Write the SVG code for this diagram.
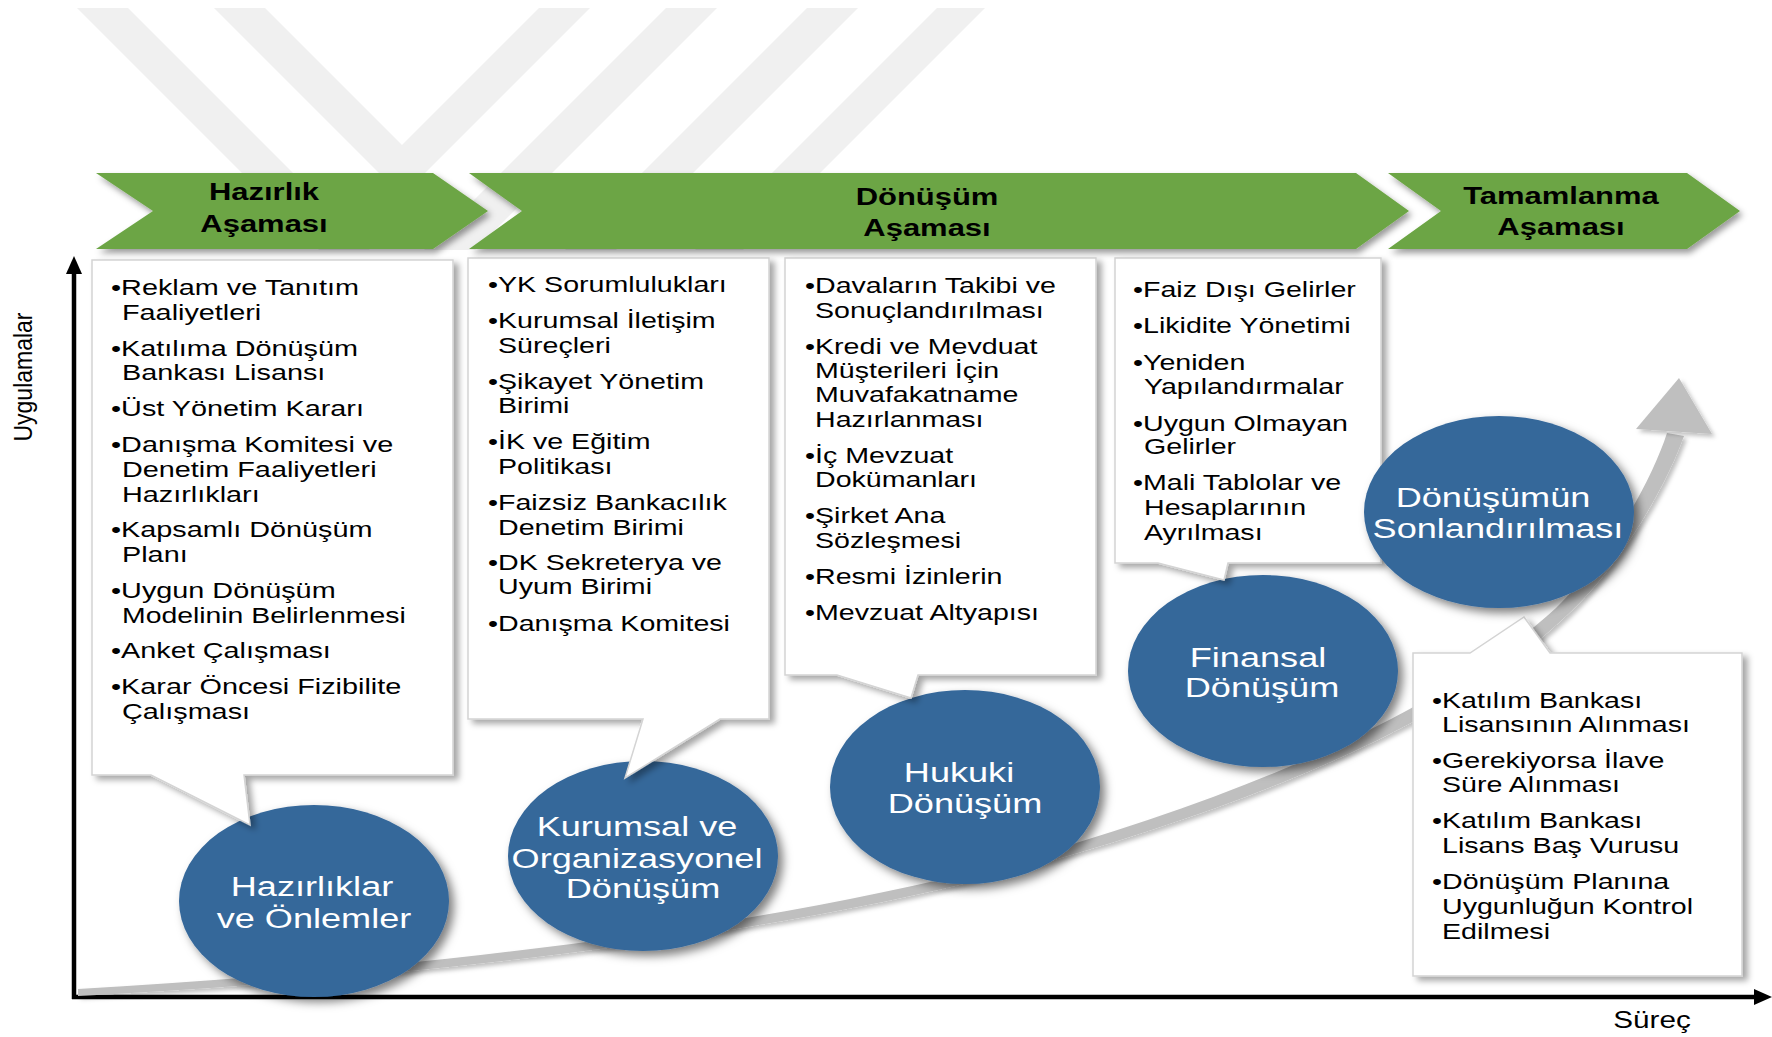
<svg xmlns="http://www.w3.org/2000/svg" width="1772" height="1037" viewBox="0 0 1772 1037">
<defs>
<style>
.bx{font-family:"Liberation Sans",Arial,sans-serif;font-size:22px;fill:#000}
.ct{font-family:"Liberation Sans",Arial,sans-serif;font-size:28px;fill:#fff;text-anchor:middle}
.ch{font-family:"Liberation Sans",Arial,sans-serif;font-size:24px;font-weight:bold;fill:#000;text-anchor:middle}
.ax{font-family:"Liberation Sans",Arial,sans-serif;font-size:23px;fill:#000;text-anchor:middle}
.box{fill:#fff;stroke:#d4d4d4;stroke-width:1.5;filter:url(#shBox)}
.circ{fill:#35679a;filter:url(#shCirc)}
.chev{fill:#6ca544;filter:url(#shChev)}
.wm{fill:#f0f0f0}
</style>
<filter id="shBox" x="-10%" y="-10%" width="125%" height="125%">
<feDropShadow dx="5" dy="4" stdDeviation="3" flood-color="#000" flood-opacity="0.35"/>
</filter>
<filter id="shCirc" x="-20%" y="-20%" width="145%" height="145%">
<feDropShadow dx="5" dy="5" stdDeviation="5" flood-color="#000" flood-opacity="0.5"/>
</filter>
<filter id="shChev" x="-10%" y="-20%" width="125%" height="150%">
<feDropShadow dx="3" dy="4" stdDeviation="3" flood-color="#000" flood-opacity="0.4"/>
</filter>
<filter id="shCurve" x="-10%" y="-10%" width="125%" height="125%">
<feDropShadow dx="3" dy="3" stdDeviation="2" flood-color="#000" flood-opacity="0.25"/>
</filter>
</defs>
<rect width="1772" height="1037" fill="#fff"/>

<g id="watermark">
<polygon class="wm" points="77,8 128,8 370,250 319,250"/>
<polygon class="wm" points="214,8 265,8 402,145 539,8 590,8 402,196"/>
<polygon class="wm" points="666,8 717,8 475,250 424,250"/>
<polygon class="wm" points="807,8 858,8 616,250 565,250"/>
<polygon class="wm" points="937,8 985,8 743,250 695,250"/>
</g>

<g id="axes">
<line x1="74" y1="999" x2="74" y2="270" stroke="#000" stroke-width="4.5"/>
<polygon points="74,256 66,274 82,274" fill="#000"/>
<line x1="72" y1="997" x2="1758" y2="997" stroke="#000" stroke-width="4.5"/>
<polygon points="1772,997 1754,989 1754,1005" fill="#000"/>
<text class="ax" transform="translate(32 377) scale(1.15 1) rotate(-90)">Uygulamalar</text>
<text class="ax" transform="translate(1652 1028) scale(1.29 1)">Süreç</text>
</g>

<g id="connectors">
<path filter="url(#shCurve)" fill="#bfbfbf" d="M78 989 C400 971 750 930 1000 865 C1247 797 1445 710 1556 608 C1609 557 1652 480 1667 433 L1684 436 C1667 484 1621 566 1565 617 C1455 721 1253 807 1003 874 C750 940 400 979 78 996 Z"/>
<polygon filter="url(#shCurve)" fill="#bfbfbf" points="1679,378 1636,429 1712,434"/>
</g>

<g id="node-c1">
<ellipse class="circ" cx="314" cy="901" rx="135" ry="96"/>
<text class="ct" transform="translate(312 896) scale(1.29 1)">Hazırlıklar</text>
<text class="ct" transform="translate(314 928) scale(1.29 1)">ve Önlemler</text>
</g>
<g id="node-c2">
<ellipse class="circ" cx="643" cy="856" rx="135" ry="95"/>
<text class="ct" transform="translate(637 836) scale(1.29 1)">Kurumsal ve</text>
<text class="ct" transform="translate(637 868) scale(1.29 1)">Organizasyonel</text>
<text class="ct" transform="translate(643 898) scale(1.29 1)">Dönüşüm</text>
</g>
<g id="node-c3">
<ellipse class="circ" cx="965" cy="787" rx="135" ry="97"/>
<text class="ct" transform="translate(959 782) scale(1.29 1)">Hukuki</text>
<text class="ct" transform="translate(965 813) scale(1.29 1)">Dönüşüm</text>
</g>
<g id="node-c4">
<ellipse class="circ" cx="1263" cy="671" rx="135" ry="96"/>
<text class="ct" transform="translate(1258 667) scale(1.29 1)">Finansal</text>
<text class="ct" transform="translate(1262 697) scale(1.29 1)">Dönüşüm</text>
</g>

<g id="node-b1">
<path class="box" d="M92 260 H453 V775 H244 L250 825 L151 775 H92 Z"/>
<text class="bx" transform="translate(111 295) scale(1.31 1)">•Reklam ve Tanıtım</text>
<text class="bx" transform="translate(122 320) scale(1.31 1)">Faaliyetleri</text>
<text class="bx" transform="translate(111 356) scale(1.31 1)">•Katılıma Dönüşüm</text>
<text class="bx" transform="translate(122 380) scale(1.31 1)">Bankası Lisansı</text>
<text class="bx" transform="translate(111 416) scale(1.31 1)">•Üst Yönetim Kararı</text>
<text class="bx" transform="translate(111 452) scale(1.31 1)">•Danışma Komitesi ve</text>
<text class="bx" transform="translate(122 477) scale(1.31 1)">Denetim Faaliyetleri</text>
<text class="bx" transform="translate(122 502) scale(1.31 1)">Hazırlıkları</text>
<text class="bx" transform="translate(111 537) scale(1.31 1)">•Kapsamlı Dönüşüm</text>
<text class="bx" transform="translate(122 562) scale(1.31 1)">Planı</text>
<text class="bx" transform="translate(111 598) scale(1.31 1)">•Uygun Dönüşüm</text>
<text class="bx" transform="translate(122 623) scale(1.29 1)">Modelinin Belirlenmesi</text>
<text class="bx" transform="translate(111 658) scale(1.31 1)">•Anket Çalışması</text>
<text class="bx" transform="translate(111 694) scale(1.31 1)">•Karar Öncesi Fizibilite</text>
<text class="bx" transform="translate(122 719) scale(1.31 1)">Çalışması</text>
</g>

<g id="node-b2">
<path class="box" d="M468 258 H769 V719 H720 L625 778 L643 719 H468 Z"/>
<text class="bx" transform="translate(488 292) scale(1.3 1)">•YK Sorumlulukları</text>
<text class="bx" transform="translate(488 328) scale(1.3 1)">•Kurumsal İletişim</text>
<text class="bx" transform="translate(498 353) scale(1.3 1)">Süreçleri</text>
<text class="bx" transform="translate(488 389) scale(1.3 1)">•Şikayet Yönetim</text>
<text class="bx" transform="translate(498 413) scale(1.3 1)">Birimi</text>
<text class="bx" transform="translate(488 449) scale(1.3 1)">•İK ve Eğitim</text>
<text class="bx" transform="translate(498 474) scale(1.3 1)">Politikası</text>
<text class="bx" transform="translate(488 510) scale(1.3 1)">•Faizsiz Bankacılık</text>
<text class="bx" transform="translate(498 535) scale(1.3 1)">Denetim Birimi</text>
<text class="bx" transform="translate(488 570) scale(1.3 1)">•DK Sekreterya ve</text>
<text class="bx" transform="translate(498 594) scale(1.3 1)">Uyum Birimi</text>
<text class="bx" transform="translate(488 631) scale(1.3 1)">•Danışma Komitesi</text>
</g>

<g id="node-b3">
<path class="box" d="M785 258 H1096 V675 H918 L911 698 L837 675 H785 Z"/>
<text class="bx" transform="translate(805 293) scale(1.3 1)">•Davaların Takibi ve</text>
<text class="bx" transform="translate(815 318) scale(1.3 1)">Sonuçlandırılması</text>
<text class="bx" transform="translate(805 354) scale(1.3 1)">•Kredi ve Mevduat</text>
<text class="bx" transform="translate(815 378) scale(1.3 1)">Müşterileri İçin</text>
<text class="bx" transform="translate(815 402) scale(1.3 1)">Muvafakatname</text>
<text class="bx" transform="translate(815 427) scale(1.3 1)">Hazırlanması</text>
<text class="bx" transform="translate(805 463) scale(1.3 1)">•İç Mevzuat</text>
<text class="bx" transform="translate(815 487) scale(1.3 1)">Dokümanları</text>
<text class="bx" transform="translate(805 523) scale(1.3 1)">•Şirket Ana</text>
<text class="bx" transform="translate(815 548) scale(1.3 1)">Sözleşmesi</text>
<text class="bx" transform="translate(805 584) scale(1.3 1)">•Resmi İzinlerin</text>
<text class="bx" transform="translate(805 620) scale(1.3 1)">•Mevzuat Altyapısı</text>
</g>

<g id="node-b4">
<path class="box" d="M1115 258 H1381 V563 H1228 L1224 580 L1158 563 H1115 Z"/>
<text class="bx" transform="translate(1133 297) scale(1.3 1)">•Faiz Dışı Gelirler</text>
<text class="bx" transform="translate(1133 333) scale(1.3 1)">•Likidite Yönetimi</text>
<text class="bx" transform="translate(1133 370) scale(1.3 1)">•Yeniden</text>
<text class="bx" transform="translate(1144 394) scale(1.3 1)">Yapılandırmalar</text>
<text class="bx" transform="translate(1133 431) scale(1.3 1)">•Uygun Olmayan</text>
<text class="bx" transform="translate(1144 454) scale(1.3 1)">Gelirler</text>
<text class="bx" transform="translate(1133 490) scale(1.3 1)">•Mali Tablolar ve</text>
<text class="bx" transform="translate(1144 515) scale(1.3 1)">Hesaplarının</text>
<text class="bx" transform="translate(1144 540) scale(1.3 1)">Ayrılması</text>
</g>

<g id="node-b5">
<path class="box" d="M1413 653 H1470 L1524 617 L1550 653 H1742 V976 H1413 Z"/>
<text class="bx" transform="translate(1432 708) scale(1.3 1)">•Katılım Bankası</text>
<text class="bx" transform="translate(1442 732) scale(1.3 1)">Lisansının Alınması</text>
<text class="bx" transform="translate(1432 768) scale(1.3 1)">•Gerekiyorsa İlave</text>
<text class="bx" transform="translate(1442 792) scale(1.3 1)">Süre Alınması</text>
<text class="bx" transform="translate(1432 828) scale(1.3 1)">•Katılım Bankası</text>
<text class="bx" transform="translate(1442 853) scale(1.3 1)">Lisans Baş Vurusu</text>
<text class="bx" transform="translate(1432 889) scale(1.3 1)">•Dönüşüm Planına</text>
<text class="bx" transform="translate(1442 914) scale(1.3 1)">Uygunluğun Kontrol</text>
<text class="bx" transform="translate(1442 939) scale(1.3 1)">Edilmesi</text>
</g>

<g id="node-c5">
<ellipse class="circ" cx="1499" cy="512" rx="135" ry="96"/>
<text class="ct" transform="translate(1493 507) scale(1.29 1)">Dönüşümün</text>
<text class="ct" transform="translate(1498 538) scale(1.29 1)">Sonlandırılması</text>
</g>

<g id="node-p1">
<polygon class="chev" points="96,173 433,173 488,211 433,249 96,249 153,211"/>
<text class="ch" transform="translate(264 200) scale(1.29 1)">Hazırlık</text>
<text class="ch" transform="translate(264 232) scale(1.29 1)">Aşaması</text>
</g>
<g id="node-p2">
<polygon class="chev" points="469,173 1356,173 1409,211 1356,249 469,249 522,211"/>
<text class="ch" transform="translate(927 205) scale(1.29 1)">Dönüşüm</text>
<text class="ch" transform="translate(927 236) scale(1.29 1)">Aşaması</text>
</g>
<g id="node-p3">
<polygon class="chev" points="1388,173 1687,173 1740,211 1687,249 1388,249 1441,211"/>
<text class="ch" transform="translate(1561 204) scale(1.29 1)">Tamamlanma</text>
<text class="ch" transform="translate(1561 235) scale(1.29 1)">Aşaması</text>
</g>
</svg>
